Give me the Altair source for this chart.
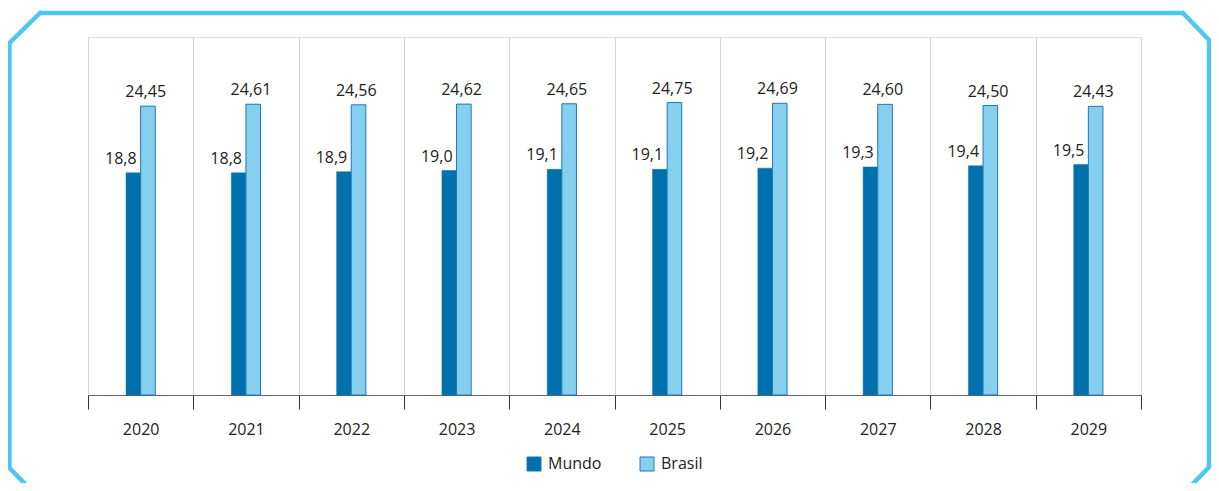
import altair as alt
import pandas as pd

years = ["2020", "2021", "2022", "2023", "2024", "2025", "2026", "2027", "2028", "2029"]
mundo = [18.8, 18.8, 18.9, 19.0, 19.1, 19.1, 19.2, 19.3, 19.4, 19.5]
brasil = [24.45, 24.61, 24.56, 24.62, 24.65, 24.75, 24.69, 24.60, 24.50, 24.43]
series = ["Mundo", "Brasil"]

rows = []
for y, m, b in zip(years, mundo, brasil):
    rows.append({"ano": y, "serie": "Mundo", "valor": m, "rotulo": f"{m:.1f}".replace(".", ",")})
    rows.append({"ano": y, "serie": "Brasil", "valor": b, "rotulo": f"{b:.2f}".replace(".", ",")})
df = pd.DataFrame(rows)
dm = df[df.serie == "Mundo"]
db = df[df.serie == "Brasil"]

FONT = "Open Sans"
W, H = 1053, 358
OX, OY = 88, 37  # plot origin on the page (for the decorative frame)
BW = 14.6

x_enc = alt.X(
    "ano:N",
    sort=years,
    title=None,
    scale=alt.Scale(paddingInner=0, paddingOuter=0),
    axis=alt.Axis(
        labelAngle=0, labelFontSize=16, labelColor="#222222", labelFont=FONT,
        tickBand="extent", tickSize=14, tickColor="#333333", tickWidth=1,
        domainColor="#666666", domainWidth=1.2,
        grid=True, gridColor="#d2d2d2", gridWidth=1,
        labelPadding=12,
    ),
)
y_scale = alt.Scale(domain=[0, 30.3], nice=False)
color_enc = alt.Color(
    "serie:N", sort=series, title=None,
    scale=alt.Scale(domain=series, range=["#0071ad", "#87cfee"]),
    legend=alt.Legend(
        orient="none", direction="horizontal", legendX=438, legendY=419,
        symbolType="square", symbolSize=196, symbolStrokeWidth=1,
        symbolStrokeColor="#1b79b8",
        labelFontSize=16, labelFont=FONT, labelColor="#222222",
        columnPadding=36, labelOffset=6,
    ),
)

bars_m = alt.Chart(dm).mark_bar(width=BW, xOffset=-BW / 2, stroke="#0071ad", strokeWidth=0.5).encode(
    x=x_enc, y=alt.Y("valor:Q", scale=y_scale, axis=None), color=color_enc,
)
bars_b = alt.Chart(db).mark_bar(width=BW, xOffset=BW / 2, stroke="#1b79b8", strokeWidth=1).encode(
    x=x_enc, y=alt.Y("valor:Q", scale=y_scale, axis=None), color=color_enc,
)

lab_m = alt.Chart(dm).mark_text(
    align="right", baseline="alphabetic", dx=-4, dy=-9,
    fontSize=16, font=FONT, color="#222222",
).encode(x=alt.X("ano:N", sort=years), y=alt.Y("valor:Q", scale=y_scale), text="rotulo:N")

lab_b = alt.Chart(db).mark_text(
    align="center", baseline="alphabetic", dx=5, dy=-9,
    fontSize=16, font=FONT, color="#222222",
).encode(x=alt.X("ano:N", sort=years), y=alt.Y("valor:Q", scale=y_scale), text="rotulo:N")

# decorative octagonal frame (page coords converted to plot coords)
frame_pts = [(33, 492), (9.5, 468), (9.5, 43), (40, 13), (1183, 13),
             (1209, 40), (1209, 467), (1185, 492)]
frame = None
for (a, b), (c, d) in zip(frame_pts[:-1], frame_pts[1:]):
    seg = alt.Chart(df.head(1)).mark_rule(
        color="#4cc8f0", strokeWidth=4.5, strokeCap="round"
    ).encode(
        x=alt.value(a - OX), x2=alt.value(c - OX),
        y=alt.value(b - OY), y2=alt.value(d - OY),
    )
    frame = seg if frame is None else frame + seg

chart = alt.layer(bars_m, bars_b, lab_m, lab_b, frame).properties(
    width=W, height=H,
    autosize=alt.AutoSizeParams(type="none"),
    padding={"left": OX - 8, "top": OY - 8, "right": 1203 - (OX - 8) - W, "bottom": 475 - (OY - 8) - H},
).configure_view(stroke="#d2d2d2", strokeWidth=1).configure(background="white")

chart.save("out.html", embed_options={"renderer": "svg", "actions": False})
